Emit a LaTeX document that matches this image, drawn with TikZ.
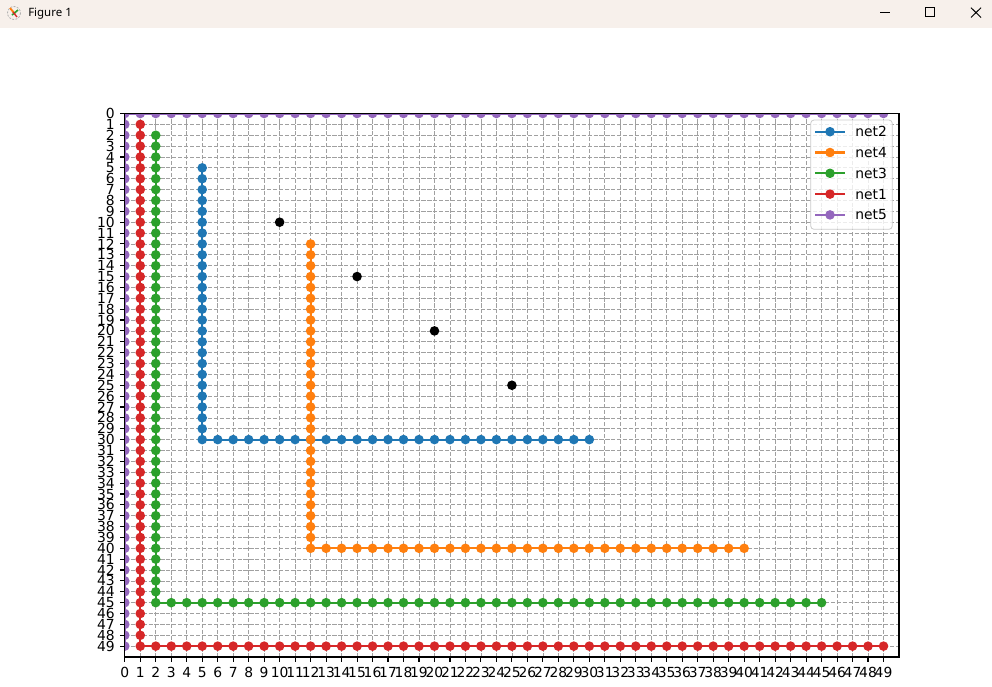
\documentclass[tikz,border=0pt]{standalone}
\usepackage{fontspec}
\setmainfont{DejaVu Sans}
\newfontfamily\uifont{Noto Sans}
\definecolor{cblue}{HTML}{1F77B4}
\definecolor{corange}{HTML}{FF7F0E}
\definecolor{cgreen}{HTML}{2CA02C}
\definecolor{cred}{HTML}{D62728}
\definecolor{cpurple}{HTML}{9467BD}
\definecolor{titlebg}{HTML}{F7F0EB}
\definecolor{gridc}{HTML}{A0A0A0}
\definecolor{legedge}{HTML}{CCCCCC}
\tikzset{
  netline/.style={line width=1.56pt},
  gridline/.style={draw=gridc, line width=0.55pt, dash pattern=on 3.1pt off 1.35pt},
  spine/.style={line width=0.83pt, black},
  ticklbl/.style={font=\fontsize{10.4}{12}\selectfont, inner sep=0pt},
  legtxt/.style={font=\fontsize{10.4}{12}\selectfont, inner sep=0pt, anchor=west},
  winbtn/.style={line width=0.7pt, black},
}
\newcommand\dotr{3.6pt}
\begin{document}
\begin{tikzpicture}[x=0.75pt, y=-0.75pt]
\useasboundingbox (0,0) rectangle (992,686);
\fill[white] (0,0) rectangle (992,686);
% title bar
\fill[titlebg] (0,0) rectangle (992,28);
\node[font=\uifont\fontsize{8.6}{10}\selectfont, anchor=west, inner sep=0pt] (title) at (28,13.5) {Figure 1};
\draw[gray!60, line width=0.6pt, dash pattern=on 1.5pt off 1pt] (14,13) circle[radius=6.5];
\draw[corange, line width=1.4pt] (10,8) -- (15,14);
\draw[cgreen, line width=1.2pt] (12,15) -- (18,10);
\draw[cred, line width=1pt] (13,12) -- (17,17);
\draw[winbtn] (880,12.5) -- (890,12.5);
\draw[winbtn] (925.3,7.5) rectangle (934.7,16.8);
\draw[winbtn] (971,7.7) -- (981,17.5) (981,7.7) -- (971,17.5);
% axes
\begin{scope}[xshift=93.6pt, yshift=-85.125pt, x=11.613pt, y=-8.1525pt]
  \coordinate (ax0) at (0,0);
  \coordinate (ax1) at (50,50);
  \begin{scope}
    \clip (0,0) rectangle (50,50);
    \foreach \i in {0,...,49} {
      \draw[gridline] (\i,0) -- (\i,50);
      \draw[gridline] (0,\i) -- (50,\i);
    }
    % net2
    \draw[netline, cblue] (5,5) -- (5,30) -- (30,30);
    \foreach \j in {5,...,30} \fill[cblue] (5,\j) circle[radius=\dotr];
    \foreach \i in {6,...,30} \fill[cblue] (\i,30) circle[radius=\dotr];
    % net4
    \draw[netline, corange] (12,12) -- (12,40) -- (40,40);
    \foreach \j in {12,...,40} \fill[corange] (12,\j) circle[radius=\dotr];
    \foreach \i in {13,...,40} \fill[corange] (\i,40) circle[radius=\dotr];
    % net3
    \draw[netline, cgreen] (2,2) -- (2,45) -- (45,45);
    \foreach \j in {2,...,45} \fill[cgreen] (2,\j) circle[radius=\dotr];
    \foreach \i in {3,...,45} \fill[cgreen] (\i,45) circle[radius=\dotr];
    % net1
    \draw[netline, cred] (1,1) -- (1,49) -- (49,49);
    \foreach \j in {1,...,49} \fill[cred] (1,\j) circle[radius=\dotr];
    \foreach \i in {2,...,49} \fill[cred] (\i,49) circle[radius=\dotr];
    % net5
    \draw[netline, cpurple] (0,49) -- (0,0) -- (49,0);
    \foreach \j in {0,...,49} \fill[cpurple] (0,\j) circle[radius=\dotr];
    \foreach \i in {1,...,49} \fill[cpurple] (\i,0) circle[radius=\dotr];
    % obstacles
    \foreach \k in {10,15,20,25} \fill[black] (\k,\k) circle[radius=\dotr];
  \end{scope}
  \draw[spine] (ax0) rectangle (ax1);
  \foreach \i in {0,...,49} {
    \draw[spine] (\i,50) -- ++(0,-3.6pt);
    \node[ticklbl, anchor=north] (xl\i) at ([yshift=-7.4pt]\i,50) {\i};
    \draw[spine] (0,\i) -- ++(-3.6pt,0);
    \node[ticklbl, anchor=east] (yl\i) at ([xshift=-7.4pt]0,\i) {\i};
  }
\end{scope}
% legend
\draw[legedge, line width=0.6pt, fill=white, fill opacity=0.8, rounded corners=2.5pt] (810.7,120) rectangle (892.3,229.3);
\foreach \n/\c [count=\r from 0] in {net2/cblue, net4/corange, net3/cgreen, net1/cred, net5/cpurple} {
  \draw[netline, \c] (815,131.7+20.8*\r) -- (845,131.7+20.8*\r);
  \fill[\c] (830,131.7+20.8*\r) circle[radius=\dotr];
  \node[legtxt] (lg\r) at (855,131.7+20.8*\r) {\n};
}
\end{tikzpicture}
\end{document}
